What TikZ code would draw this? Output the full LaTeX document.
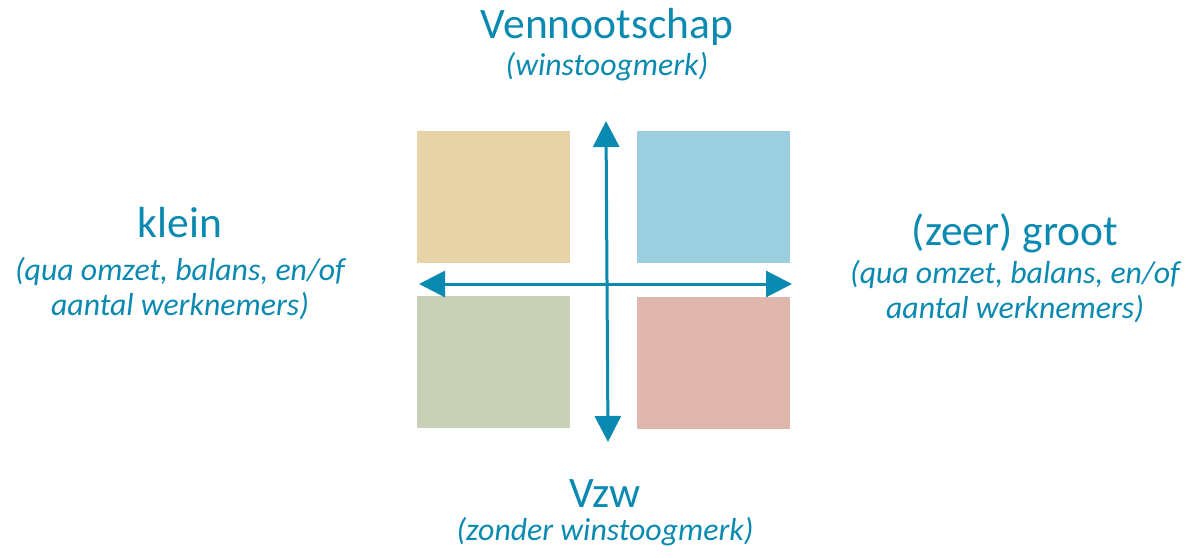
\documentclass[tikz,border=0pt]{standalone}
\usepackage{fontspec}
\setmainfont{Carlito}
\usetikzlibrary{arrows.meta,positioning}

\definecolor{axisblue}{HTML}{0A89B1}
\definecolor{tanbox}{HTML}{E8D2A8}
\definecolor{bluebox}{HTML}{9BCEDE}
\definecolor{greenbox}{HTML}{C8D0B7}
\definecolor{redbox}{HTML}{DFB7AD}

\tikzset{
    quadrant/.style={inner sep=0pt, minimum width=153pt, minimum height=132pt, anchor=north west},
    axis/.style={draw=axisblue, line width=3pt, {Triangle[length=26pt,width=26pt]}-{Triangle[length=26pt,width=26pt]}},
    heading/.style={text=axisblue, anchor=base, inner sep=0pt, font=\fontsize{43.5}{50}\selectfont},
    subhead/.style={text=axisblue, anchor=base, inner sep=0pt, align=center, font=\fontsize{31.8}{35}\selectfont\itshape},
}

\begin{document}
\begin{tikzpicture}[x=1pt, y=-1pt]
    \useasboundingbox (0,0) rectangle (1188,557);

    % the four squares
    \node [quadrant, fill=tanbox](tl) at (417,131) {};
    \node [quadrant, fill=bluebox](tr) at (637,131) {};
    \node [quadrant, fill=greenbox](bl) at (417,296) {};
    \node [quadrant, fill=redbox](br) at (637,297) {};

    % axis ends
    \coordinate (top) at (606,121);
    \coordinate (bottom) at (608,442);
    \coordinate (left) at (419,284);
    \coordinate (right) at (792,284);

    \draw [axis] (bottom) -- (top);
    \draw [axis] (left) -- (right);

    % labels (base of a two-line node = its last line)
    \node [heading](vnn) at (607,38) {Vennootschap};
    \node [subhead](vnnsub) at (607,75) {(winstoogmerk)};

    \node [heading](vzw) at (605,507) {Vzw};
    \node [subhead](vzwsub) at (605,540) {(zonder winstoogmerk)};

    \node [heading](klein) at (180,237) {klein};
    \node [subhead](kleinsub) at (180,315) {(qua omzet, balans, en/of\\aantal werknemers)};

    \node [heading](groot) at (1015,245) {(zeer) groot};
    \node [subhead](grootsub) at (1015,318) {(qua omzet, balans, en/of\\aantal werknemers)};
\end{tikzpicture}
\end{document}
